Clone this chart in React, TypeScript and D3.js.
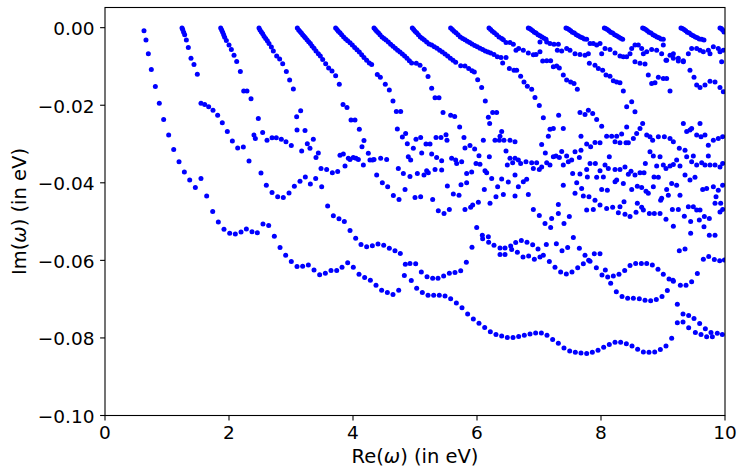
import React from 'react';
import * as d3 from 'd3';

type P = [number, number];

const xTicks = [0, 2, 4, 6, 8, 10];
const xTickLabels = ['0', '2', '4', '6', '8', '10'];
const yTicks = [0, -0.02, -0.04, -0.06, -0.08, -0.1];
const yTickLabels = ['0.00', '\u22120.02', '\u22120.04', '\u22120.06', '\u22120.08', '\u22120.10'];
const xDomain: P = [0, 10];
const yDomain: P = [-0.1, 0.0052];

const branch01: P[] = [[0.629,-0.0008],[0.661,-0.0032],[0.699,-0.0067],[0.747,-0.0108],[0.812,-0.0152],[0.876,-0.0195],[0.946,-0.0237],[1.027,-0.0277],[1.108,-0.0314],[1.194,-0.0346],[1.280,-0.0372],[1.366,-0.0393],[1.457,-0.0412],[1.548,-0.0389],[1.640,-0.0434],[1.737,-0.0474],[1.828,-0.0501],[1.919,-0.0520],[2.011,-0.0530],[2.102,-0.0532],[2.194,-0.0527],[2.280,-0.0519],[2.371,-0.0526],[2.457,-0.0529],[2.548,-0.0506],[2.640,-0.0510],[2.731,-0.0538],[2.823,-0.0567],[2.914,-0.0587],[3.005,-0.0603],[3.097,-0.0616],[3.188,-0.0615],[3.280,-0.0612],[3.371,-0.0625],[3.462,-0.0637],[3.554,-0.0633],[3.645,-0.0626],[3.737,-0.0626],[3.823,-0.0618],[3.914,-0.0606],[4.005,-0.0618],[4.097,-0.0636],[4.188,-0.0644],[4.280,-0.0651],[4.371,-0.0664],[4.462,-0.0677],[4.554,-0.0683],[4.645,-0.0688],[4.737,-0.0677],[4.828,-0.0639],[4.940,-0.0652],[5.027,-0.0672],[5.118,-0.0683],[5.210,-0.0690],[5.301,-0.0690],[5.392,-0.0690],[5.484,-0.0692],[5.575,-0.0699],[5.667,-0.0710],[5.758,-0.0722],[5.849,-0.0738],[5.941,-0.0751],[6.032,-0.0762],[6.124,-0.0773],[6.215,-0.0784],[6.306,-0.0791],[6.398,-0.0795],[6.489,-0.0799],[6.581,-0.0799],[6.672,-0.0796],[6.763,-0.0793],[6.855,-0.0790],[6.946,-0.0787],[7.038,-0.0787],[7.129,-0.0793],[7.220,-0.0804],[7.312,-0.0814],[7.403,-0.0826],[7.495,-0.0834],[7.586,-0.0837],[7.677,-0.0839],[7.769,-0.0840],[7.860,-0.0837],[7.952,-0.0832],[8.043,-0.0824],[8.134,-0.0817],[8.226,-0.0811],[8.317,-0.0811],[8.409,-0.0815],[8.500,-0.0821],[8.591,-0.0829],[8.683,-0.0836],[8.774,-0.0837],[8.866,-0.0836],[8.957,-0.0830],[9.048,-0.0821],[9.140,-0.0801],[9.231,-0.0761],[9.323,-0.0759],[9.414,-0.0774],[9.522,-0.0786],[9.613,-0.0791],[9.704,-0.0797],[9.796,-0.0797],[9.876,-0.0788],[9.957,-0.0791]];

const branch02: P[] = [[1.242,-0.0001],[1.253,-0.0005],[1.269,-0.0012],[1.285,-0.0018],[1.312,-0.0032],[1.344,-0.0051],[1.387,-0.0079],[1.435,-0.0095],[1.489,-0.0120],[1.548,-0.0195],[1.608,-0.0198],[1.672,-0.0204],[1.742,-0.0213],[1.817,-0.0226],[1.892,-0.0245],[1.973,-0.0268],[2.054,-0.0292],[2.140,-0.0310],[2.231,-0.0308],[2.323,-0.0344],[2.516,-0.0375],[2.602,-0.0406],[2.694,-0.0425],[2.785,-0.0436],[2.876,-0.0438],[2.968,-0.0426],[3.054,-0.0409],[3.145,-0.0396],[3.231,-0.0385],[3.312,-0.0403],[3.398,-0.0389],[3.495,-0.0410]];

const branch03: P[] = [[1.866,-0.0001],[1.882,-0.0006],[1.898,-0.0012],[1.914,-0.0018],[1.930,-0.0025],[1.957,-0.0033],[2.000,-0.0045],[2.038,-0.0056],[2.081,-0.0071],[2.124,-0.0087],[2.183,-0.0113],[2.237,-0.0163],[2.290,-0.0163],[2.355,-0.0183],[2.473,-0.0234],[2.403,-0.0277],[2.425,-0.0286],[2.543,-0.0270],[2.613,-0.0290],[2.694,-0.0284],[2.763,-0.0284],[2.844,-0.0288],[2.919,-0.0294],[3.005,-0.0304]];

const branch04: P[] = [[2.484,-0.0001],[2.500,-0.0006],[2.522,-0.0011],[2.543,-0.0016],[2.565,-0.0022],[2.591,-0.0028],[2.618,-0.0034],[2.645,-0.0041],[2.683,-0.0050],[2.715,-0.0060],[2.769,-0.0073],[2.817,-0.0081],[2.866,-0.0093],[2.925,-0.0113],[2.978,-0.0135],[3.038,-0.0158],[3.091,-0.0230],[3.156,-0.0214],[3.097,-0.0264],[3.226,-0.0265],[3.263,-0.0299],[3.360,-0.0288],[3.306,-0.0311]];

const branch05: P[] = [[3.102,-0.0001],[3.124,-0.0006],[3.145,-0.0010],[3.167,-0.0014],[3.188,-0.0018],[3.210,-0.0022],[3.231,-0.0026],[3.258,-0.0031],[3.285,-0.0036],[3.312,-0.0041],[3.339,-0.0047],[3.371,-0.0053],[3.403,-0.0060],[3.441,-0.0067],[3.473,-0.0073],[3.511,-0.0082],[3.559,-0.0093],[3.607,-0.0104],[3.661,-0.0112],[3.720,-0.0124],[3.779,-0.0146],[3.839,-0.0198],[3.903,-0.0206],[3.968,-0.0238],[4.032,-0.0238],[4.102,-0.0262],[4.177,-0.0291],[4.145,-0.0307]];

const branch06: P[] = [[3.720,-0.0001],[3.742,-0.0005],[3.763,-0.0009],[3.790,-0.0013],[3.817,-0.0018],[3.849,-0.0024],[3.882,-0.0029],[3.914,-0.0034],[3.952,-0.0039],[3.989,-0.0045],[4.027,-0.0051],[4.064,-0.0057],[4.102,-0.0063],[4.140,-0.0070],[4.177,-0.0077],[4.220,-0.0084],[4.263,-0.0091],[4.301,-0.0095],[4.392,-0.0121],[4.441,-0.0128],[4.521,-0.0146],[4.586,-0.0161],[4.645,-0.0189],[4.699,-0.0216],[4.769,-0.0216],[4.715,-0.0261],[4.796,-0.0282],[4.849,-0.0273],[4.876,-0.0299]];

const branch07: P[] = [[4.339,-0.0001],[4.360,-0.0005],[4.382,-0.0009],[4.409,-0.0013],[4.435,-0.0018],[4.468,-0.0024],[4.500,-0.0028],[4.532,-0.0032],[4.570,-0.0037],[4.607,-0.0043],[4.645,-0.0048],[4.683,-0.0053],[4.720,-0.0058],[4.758,-0.0063],[4.796,-0.0068],[4.833,-0.0073],[4.871,-0.0079],[4.909,-0.0085],[4.946,-0.0091],[5.021,-0.0092],[5.081,-0.0097],[5.150,-0.0107],[5.210,-0.0126],[5.269,-0.0156],[5.323,-0.0181],[5.387,-0.0181],[5.452,-0.0219],[5.575,-0.0226],[5.640,-0.0229],[5.720,-0.0256],[5.790,-0.0283]];

const branch08: P[] = [[4.957,-0.0001],[4.978,-0.0005],[5.000,-0.0009],[5.027,-0.0013],[5.054,-0.0018],[5.086,-0.0024],[5.118,-0.0028],[5.150,-0.0032],[5.188,-0.0037],[5.226,-0.0042],[5.269,-0.0045],[5.312,-0.0049],[5.355,-0.0053],[5.398,-0.0058],[5.441,-0.0063],[5.484,-0.0068],[5.527,-0.0073],[5.570,-0.0079],[5.613,-0.0084],[5.656,-0.0089],[5.737,-0.0098],[5.806,-0.0099],[5.866,-0.0105],[5.919,-0.0111],[5.957,-0.0114],[6.011,-0.0134],[6.075,-0.0154],[6.134,-0.0189],[6.183,-0.0231],[6.204,-0.0247],[6.253,-0.0219],[6.317,-0.0219]];

const branch09: P[] = [[5.575,-0.0001],[5.602,-0.0005],[5.629,-0.0009],[5.661,-0.0013],[5.694,-0.0018],[5.731,-0.0024],[5.769,-0.0028],[5.806,-0.0031],[5.844,-0.0035],[5.882,-0.0038],[5.919,-0.0042],[5.962,-0.0046],[6.005,-0.0049],[6.048,-0.0053],[6.091,-0.0056],[6.134,-0.0060],[6.177,-0.0063],[6.220,-0.0065],[6.274,-0.0069],[6.328,-0.0075],[6.387,-0.0077],[6.468,-0.0077],[6.414,-0.0091],[6.522,-0.0105],[6.597,-0.0110],[6.640,-0.0110],[6.704,-0.0125],[6.758,-0.0140],[6.812,-0.0151],[6.882,-0.0159],[6.935,-0.0180],[7.005,-0.0201],[7.070,-0.0232]];

const branch10: P[] = [[6.194,-0.0001],[6.220,-0.0005],[6.247,-0.0009],[6.280,-0.0013],[6.317,-0.0018],[6.355,-0.0024],[6.398,-0.0028],[6.425,-0.0031],[6.468,-0.0038],[6.532,-0.0038],[6.586,-0.0043],[6.629,-0.0058],[6.672,-0.0054],[6.747,-0.0058],[6.828,-0.0065],[6.909,-0.0070],[6.952,-0.0069],[7.016,-0.0062]];

const branches11to16: P[] = [[6.828,-0.0001],[6.849,-0.0002],[6.871,-0.0005],[6.898,-0.0008],[6.925,-0.0012],[6.952,-0.0014],[6.984,-0.0018],[7.016,-0.0021],[7.048,-0.0024],[7.081,-0.0027],[7.113,-0.0030],
[7.435,-0.0001],[7.457,-0.0002],[7.484,-0.0005],[7.511,-0.0008],[7.538,-0.0012],[7.570,-0.0014],[7.602,-0.0018],[7.634,-0.0021],[7.667,-0.0024],[7.699,-0.0026],[7.731,-0.0029],[7.769,-0.0030],
[8.054,-0.0001],[8.075,-0.0002],[8.102,-0.0005],[8.129,-0.0008],[8.156,-0.0012],[8.188,-0.0014],[8.220,-0.0018],[8.253,-0.0021],[8.285,-0.0024],[8.317,-0.0027],[8.349,-0.0030],
[8.672,-0.0001],[8.694,-0.0002],[8.720,-0.0005],[8.747,-0.0008],[8.774,-0.0012],[8.806,-0.0014],[8.839,-0.0018],[8.871,-0.0021],[8.903,-0.0024],[8.935,-0.0026],[8.968,-0.0029],[9.005,-0.0030],
[9.290,-0.0001],[9.312,-0.0002],[9.339,-0.0005],[9.366,-0.0008],[9.392,-0.0012],[9.425,-0.0014],[9.457,-0.0018],[9.489,-0.0021],[9.522,-0.0024],[9.554,-0.0026],[9.586,-0.0029],[9.624,-0.0030],[9.661,-0.0032],
[9.919,-0.0001],[9.941,-0.0002],[9.962,-0.0006],[9.984,-0.0011]];

const upperRows: P[] = [[7.016,-0.0037],[7.124,-0.0037],[7.177,-0.0041],[7.242,-0.0043],[7.312,-0.0043],[7.296,-0.0058],[7.366,-0.0060],[7.446,-0.0054],[7.500,-0.0058],[7.581,-0.0067],[7.661,-0.0069],[7.742,-0.0071],[7.796,-0.0067],[7.823,-0.0041],[7.876,-0.0041],[7.930,-0.0045],[7.984,-0.0041],[8.011,-0.0067],[8.065,-0.0054],[8.145,-0.0056],[8.226,-0.0065],[8.306,-0.0073],[8.360,-0.0075],[8.414,-0.0075],[8.468,-0.0067],[8.495,-0.0054],[8.548,-0.0045],[8.602,-0.0045],[8.656,-0.0054],[8.683,-0.0067],[8.737,-0.0062],[8.817,-0.0056],[8.898,-0.0058],[8.978,-0.0067],[9.005,-0.0045],[9.059,-0.0084],[9.113,-0.0071],[9.167,-0.0067],[9.247,-0.0079],[9.328,-0.0088],[9.409,-0.0067],[9.462,-0.0054],[9.543,-0.0054],[9.597,-0.0058],[9.651,-0.0062],[9.731,-0.0058],[9.758,-0.0067],[9.812,-0.0049],[9.892,-0.0054],[9.919,-0.0062],[9.973,-0.0058],
[7.059,-0.0086],[7.124,-0.0085],[7.188,-0.0085],[7.231,-0.0101],[7.285,-0.0099],[7.328,-0.0104],[7.392,-0.0122],[7.446,-0.0135],[7.511,-0.0140],[7.565,-0.0144],[7.618,-0.0159],[7.812,-0.0092],[7.903,-0.0097],[7.957,-0.0105],[8.027,-0.0110],[8.081,-0.0122],[8.145,-0.0125],[8.199,-0.0137],[8.253,-0.0140],[8.306,-0.0142],[8.360,-0.0163],[8.548,-0.0088],[8.629,-0.0092],[8.710,-0.0094],[8.763,-0.0122],[8.817,-0.0144],[8.871,-0.0142],[8.925,-0.0128],[9.005,-0.0131],[9.059,-0.0131],[9.113,-0.0163],[9.048,-0.0084],[9.167,-0.0079],[9.247,-0.0086],[9.328,-0.0085],[9.435,-0.0110],[9.500,-0.0128],[9.543,-0.0148],[9.597,-0.0154],[9.677,-0.0148],[9.758,-0.0138],[9.839,-0.0140],[9.919,-0.0154],[9.973,-0.0165],[9.946,-0.0088]];

const middleRows: P[] = [[7.317,-0.0226],[7.392,-0.0260],[7.231,-0.0260],[7.177,-0.0262],[7.151,-0.0280],[7.043,-0.0301],[6.613,-0.0294],[6.532,-0.0290],[6.435,-0.0290],[6.398,-0.0268],[6.371,-0.0280],[7.661,-0.0219],[7.742,-0.0224],[7.796,-0.0213],[7.866,-0.0221],[7.930,-0.0237],[8.011,-0.0254],[7.677,-0.0280],[7.769,-0.0300],[7.833,-0.0307],[7.903,-0.0296],[7.984,-0.0297],[8.091,-0.0280],[8.172,-0.0280],[8.253,-0.0280],[8.333,-0.0274],[8.226,-0.0294],[8.306,-0.0297],[8.403,-0.0297],[8.414,-0.0256],[8.495,-0.0191],[8.414,-0.0204],[8.548,-0.0217],[8.441,-0.0297],[8.522,-0.0286],[8.575,-0.0273],[8.629,-0.0260],[8.672,-0.0247],[8.737,-0.0277],[8.790,-0.0281],[8.833,-0.0290],[8.925,-0.0281],[9.022,-0.0281],[9.113,-0.0286],[9.167,-0.0294],[9.263,-0.0311],[9.328,-0.0247],[9.382,-0.0268],[9.435,-0.0264],[9.462,-0.0260],[9.543,-0.0277],[9.597,-0.0247],[9.613,-0.0281],[9.677,-0.0277],[9.731,-0.0303],[9.812,-0.0290],[9.892,-0.0286],[9.962,-0.0281],
[4.973,-0.0311],[5.016,-0.0288],[5.091,-0.0283],[5.177,-0.0300],[5.242,-0.0300],[5.339,-0.0283],[5.419,-0.0283],[5.500,-0.0276],[5.516,-0.0290],[5.806,-0.0310],[5.887,-0.0304],[5.962,-0.0313],[6.102,-0.0290],[6.290,-0.0290],[6.360,-0.0290]];

const bandLeft: P[] = [[3.172,-0.0318],[3.403,-0.0335],[3.441,-0.0323],[3.790,-0.0329],[3.844,-0.0326],[3.925,-0.0337],[3.952,-0.0340],[4.005,-0.0335],[4.048,-0.0337],[4.086,-0.0340],[4.167,-0.0354],[4.247,-0.0324],[4.274,-0.0341],[4.317,-0.0341],[4.339,-0.0340],[4.446,-0.0337],[4.543,-0.0340],[4.731,-0.0363],[4.812,-0.0376],[4.919,-0.0384],[4.892,-0.0333],[4.930,-0.0341],[5.038,-0.0376],[5.145,-0.0380],[5.188,-0.0369],[5.215,-0.0374],[5.108,-0.0323],[5.269,-0.0326],[5.323,-0.0366],[5.349,-0.0335],[5.430,-0.0367],[5.430,-0.0343],[5.591,-0.0337],[5.656,-0.0341],[5.672,-0.0350],[5.753,-0.0346],[5.833,-0.0376],[5.914,-0.0372],[5.984,-0.0350],[6.048,-0.0352],[6.032,-0.0330],[6.129,-0.0369],[6.156,-0.0374],[6.199,-0.0333],[6.237,-0.0389],
[3.484,-0.0363],[3.575,-0.0366],[3.667,-0.0374],[3.753,-0.0371],[3.871,-0.0357],[4.382,-0.0380],[4.473,-0.0400],[4.559,-0.0410],[4.651,-0.0433],[4.742,-0.0443],[4.839,-0.0417],[5.000,-0.0438],[5.091,-0.0436],[5.285,-0.0443],[5.376,-0.0472],[5.468,-0.0479],[5.554,-0.0469],[5.522,-0.0408],[5.618,-0.0429],[5.710,-0.0432],[5.742,-0.0405],[5.833,-0.0400],[5.806,-0.0469],[5.898,-0.0463],[5.930,-0.0457],[6.022,-0.0450],[6.118,-0.0417],[6.210,-0.0453],[6.306,-0.0436],[6.333,-0.0410]];

const bandRight: P[] = [[6.468,-0.0318],[6.532,-0.0337],[6.613,-0.0337],[6.489,-0.0354],[6.575,-0.0348],[6.667,-0.0341],[6.704,-0.0350],[6.790,-0.0346],[6.882,-0.0348],[6.909,-0.0363],[6.962,-0.0348],[7.005,-0.0366],[7.043,-0.0359],[7.102,-0.0323],[7.124,-0.0348],[7.177,-0.0354],[7.231,-0.0333],[7.274,-0.0331],[7.328,-0.0335],[7.366,-0.0319],[7.392,-0.0354],[7.446,-0.0331],[7.473,-0.0346],[7.527,-0.0341],[7.581,-0.0320],[7.651,-0.0335],[7.677,-0.0316],[7.769,-0.0366],[7.823,-0.0350],[7.909,-0.0350],[7.984,-0.0369],[8.065,-0.0354],[8.134,-0.0333],[8.118,-0.0363],[8.226,-0.0366],[8.306,-0.0366],[8.387,-0.0359],[8.441,-0.0378],[8.484,-0.0370],[8.548,-0.0380],[8.629,-0.0374],[8.694,-0.0374],[8.715,-0.0350],[8.790,-0.0320],[8.844,-0.0331],[8.898,-0.0357],[8.952,-0.0333],[9.005,-0.0354],[9.048,-0.0363],[9.113,-0.0357],[9.167,-0.0353],[9.220,-0.0341],[9.274,-0.0357],[9.355,-0.0316],[9.382,-0.0333],[9.462,-0.0346],[9.489,-0.0331],[9.543,-0.0354],[9.624,-0.0348],[9.677,-0.0354],[9.731,-0.0331],[9.758,-0.0354],[9.839,-0.0354],[9.919,-0.0359],[9.962,-0.0350],
[6.398,-0.0390],[6.505,-0.0398],[6.613,-0.0380],[6.667,-0.0410],[6.747,-0.0397],[6.801,-0.0391],[6.828,-0.0430],[6.425,-0.0430],[6.613,-0.0434],[6.909,-0.0469],[7.005,-0.0484],[7.097,-0.0505],[7.188,-0.0515],[7.204,-0.0492],[7.312,-0.0456],[7.312,-0.0479],[7.392,-0.0406],[7.403,-0.0505],[7.489,-0.0487],[7.543,-0.0376],[7.581,-0.0427],[7.608,-0.0400],[7.661,-0.0377],[7.688,-0.0415],[7.715,-0.0434],[7.769,-0.0470],[7.806,-0.0436],[7.876,-0.0469],[7.903,-0.0445],[7.984,-0.0457],[8.011,-0.0417],[8.091,-0.0466],[8.102,-0.0419],[8.188,-0.0463],[8.226,-0.0397],[8.280,-0.0477],[8.306,-0.0462],[8.371,-0.0449],[8.387,-0.0481],[8.468,-0.0487],[8.495,-0.0417],[8.565,-0.0476],[8.586,-0.0453],[8.656,-0.0463],[8.683,-0.0470],[8.726,-0.0422],[8.763,-0.0427],[8.780,-0.0479],[8.844,-0.0410],[8.860,-0.0479],[8.952,-0.0479],[8.962,-0.0445],[8.978,-0.0440],[9.048,-0.0494],[9.086,-0.0432],[9.151,-0.0469],[9.167,-0.0512],[9.247,-0.0469],[9.274,-0.0432],[9.344,-0.0486],[9.409,-0.0462],[9.446,-0.0500],[9.446,-0.0530],[9.489,-0.0462],[9.543,-0.0470],[9.597,-0.0470],[9.586,-0.0496],[9.661,-0.0513],[9.667,-0.0487],[9.747,-0.0492],[9.747,-0.0535],[9.839,-0.0535],[9.839,-0.0453],[9.855,-0.0436],[9.919,-0.0475],[9.930,-0.0453],[9.962,-0.0469],[9.962,-0.0406],[9.892,-0.0419],
[7.780,-0.0385],[7.930,-0.0386],[8.038,-0.0385],[8.253,-0.0393],[8.360,-0.0402],[8.586,-0.0409],[8.656,-0.0412],[8.855,-0.0385],[8.925,-0.0386],[9.059,-0.0417],[9.140,-0.0402],[9.220,-0.0406],[9.355,-0.0380],[9.435,-0.0393],[9.516,-0.0386],[9.640,-0.0417],[9.704,-0.0415],[9.812,-0.0410]];

const lowerCurves: P[] = [[3.591,-0.0460],[3.683,-0.0485],[3.774,-0.0493],[3.860,-0.0500],[3.952,-0.0523],[4.043,-0.0543],[4.129,-0.0559],[4.220,-0.0565],[4.312,-0.0562],[4.403,-0.0558],[4.495,-0.0561],[4.586,-0.0569],[4.677,-0.0575],[4.763,-0.0582],
[4.844,-0.0610],[4.919,-0.0608],[5.011,-0.0609],[5.102,-0.0630],[5.194,-0.0642],[5.285,-0.0646],[5.371,-0.0646],[5.462,-0.0640],[5.554,-0.0633],[5.645,-0.0631],[5.737,-0.0627],[5.828,-0.0605],[5.919,-0.0566],[5.995,-0.0515],[6.086,-0.0535],[6.091,-0.0544],[6.183,-0.0539],[6.188,-0.0553],[6.274,-0.0561],
[6.371,-0.0568],[6.452,-0.0568],[6.543,-0.0563],[6.624,-0.0554],[6.715,-0.0549],[6.806,-0.0553],[6.898,-0.0560],[6.984,-0.0571],
[6.371,-0.0585],[6.452,-0.0585],[6.559,-0.0572],[6.651,-0.0579],[6.742,-0.0591],[6.833,-0.0589],[6.925,-0.0597],[7.016,-0.0591],[7.070,-0.0587],
[7.167,-0.0603],[7.258,-0.0618],[7.349,-0.0630],[7.441,-0.0635],[7.532,-0.0630],[7.624,-0.0619],[7.715,-0.0609],[7.801,-0.0600],
[7.118,-0.0559],[7.280,-0.0557],[7.371,-0.0575],[7.462,-0.0567],[7.554,-0.0541],[7.651,-0.0569],[7.742,-0.0587],[7.823,-0.0602],[7.892,-0.0583],[7.984,-0.0583],
[7.925,-0.0619],[8.016,-0.0638],[8.108,-0.0643],[8.199,-0.0640],[8.290,-0.0636],[8.382,-0.0626],[8.468,-0.0613],[8.559,-0.0608],[8.651,-0.0608],[8.737,-0.0608],[8.828,-0.0612],[8.919,-0.0623],[9.005,-0.0636],[9.097,-0.0648],[9.167,-0.0654],[9.280,-0.0664],[9.371,-0.0664],[9.462,-0.0655],[9.554,-0.0634],[9.651,-0.0597],[9.737,-0.0590],[9.828,-0.0598],[9.914,-0.0601],[9.990,-0.0599],
[8.070,-0.0625],[8.156,-0.0659],[8.247,-0.0681],[8.339,-0.0693],[8.430,-0.0698],[8.522,-0.0698],[8.618,-0.0699],[8.710,-0.0703],[8.801,-0.0704],[8.892,-0.0701],[8.984,-0.0693],[9.070,-0.0678],[9.161,-0.0651],
[9.263,-0.0575],[9.355,-0.0571],
[9.231,-0.0713],[9.323,-0.0738],[9.414,-0.0742],[9.500,-0.0750],[9.591,-0.0763],[9.683,-0.0776],[9.774,-0.0786]];

const allSeries: P[][] = [branch01, branch02, branch03, branch04, branch05, branch06, branch07, branch08, branch09, branch10, branches11to16, upperRows, middleRows, bandLeft, bandRight, lowerCurves];

const FONT = 'DejaVu Sans, sans-serif';

export default function App() {
  const left = 105, right = 725, top = 7.5, bottom = 415.5;
  const x = d3.scaleLinear().domain(xDomain).range([left, right]);
  const y = d3.scaleLinear().domain(yDomain).range([bottom, top]);
  const pts = allSeries.flat();
  return (
    <svg width={737} height={472} style={{ position: 'absolute', left: 0, top: 0 }} xmlns="http://www.w3.org/2000/svg">
      <rect x={0} y={0} width={737} height={472} fill="#fff" />
      <defs>
        <clipPath id="plotClip">
          <rect x={left} y={top} width={right - left} height={bottom - top} />
        </clipPath>
      </defs>
      <g clipPath="url(#plotClip)">
        {pts.map((p, i) => (
          <circle key={i} cx={x(p[0])} cy={y(p[1])} r={2.5} fill="#0000ff" />
        ))}
      </g>
      <rect x={left} y={top} width={right - left} height={bottom - top} fill="none" stroke="#000" strokeWidth={1.1} />
      {xTicks.map((t, i) => (
        <g key={'x' + i}>
          <line x1={x(t)} x2={x(t)} y1={bottom} y2={bottom + 4.9} stroke="#000" strokeWidth={1.1} />
          <text x={x(t)} y={439} textAnchor="middle" fontFamily={FONT} fontSize={18.5} fill="#000">{xTickLabels[i]}</text>
        </g>
      ))}
      {yTicks.map((t, i) => (
        <g key={'y' + i}>
          <line x1={left - 4.9} x2={left} y1={y(t)} y2={y(t)} stroke="#000" strokeWidth={1.1} />
          <text x={94.5} y={y(t) + 7.5} textAnchor="end" fontFamily={FONT} fontSize={18.5} fill="#000">{yTickLabels[i]}</text>
        </g>
      ))}
      <text x={(left + right) / 2} y={463} textAnchor="middle" fontFamily={FONT} fontSize={19.5} fill="#000">
        Re(<tspan fontStyle="italic">ω</tspan>) (in eV)
      </text>
      <text transform={`translate(26, ${(top + bottom) / 2}) rotate(-90)`} textAnchor="middle" fontFamily={FONT} fontSize={19.5} fill="#000">
        Im(<tspan fontStyle="italic">ω</tspan>) (in eV)
      </text>
    </svg>
  );
}
